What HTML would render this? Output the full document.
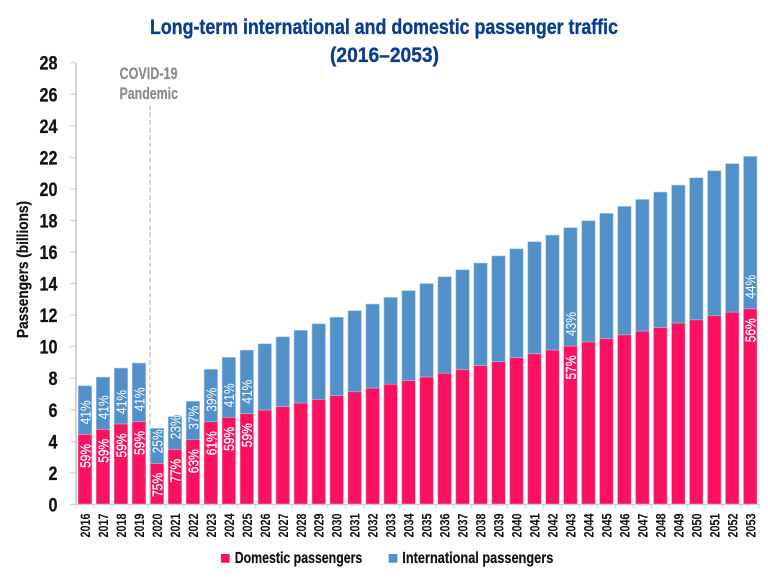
<!DOCTYPE html>
<html lang="en">
<head>
<meta charset="utf-8">
<title>Long-term international and domestic passenger traffic</title>
<style>
  html, body { margin: 0; padding: 0; background: #fff; }
  svg { display: block; font-family: "Liberation Sans", sans-serif; font-weight: bold; }
</style>
</head>
<body>
<svg id="chart" xmlns="http://www.w3.org/2000/svg" width="768" height="583" viewBox="0 0 768 583">
  <rect x="0" y="0" width="768" height="583" fill="#ffffff"/>
  <text x="150" y="34" font-size="21.5" fill="#0a3d8f" stroke="#0a3d8f" stroke-width="0.35" textLength="468" lengthAdjust="spacingAndGlyphs">Long-term international and domestic passenger traffic</text>
  <text x="330" y="62" font-size="21.5" fill="#0a3d8f" stroke="#0a3d8f" stroke-width="0.35" textLength="109" lengthAdjust="spacingAndGlyphs">(2016–2053)</text>
  <text transform="translate(28 338) rotate(-90)" font-size="16" fill="#111111" stroke="#111111" stroke-width="0.25" textLength="137" lengthAdjust="spacingAndGlyphs">Passengers (billions)</text>
  <g id="bars"></g>
  <g id="axes"></g>
  <line x1="150" y1="105" x2="150" y2="504" stroke="#c9c9c9" stroke-width="1.5" stroke-dasharray="5 2.5"/>
  <text x="119.5" y="79" font-size="16.5" fill="#8a8a8a" stroke="#8a8a8a" stroke-width="0.2" textLength="58" lengthAdjust="spacingAndGlyphs">COVID-19</text>
  <text x="119.5" y="99" font-size="16.5" fill="#8a8a8a" stroke="#8a8a8a" stroke-width="0.2" textLength="58.5" lengthAdjust="spacingAndGlyphs">Pandemic</text>
  <g id="labels"></g>
  <g>
    <rect x="221" y="554" width="8.7" height="8.7" fill="#fb1160"/>
    <text x="234.7" y="563" font-size="15.5" fill="#111111" stroke="#111111" stroke-width="0.2" textLength="127.6" lengthAdjust="spacingAndGlyphs">Domestic passengers</text>
    <rect x="388.7" y="554" width="8.7" height="8.7" fill="#5290c9"/>
    <text x="402.3" y="563" font-size="15.5" fill="#111111" stroke="#111111" stroke-width="0.2" textLength="151" lengthAdjust="spacingAndGlyphs">International passengers</text>
  </g>
</svg>
<script>
const years = [2016,2017,2018,2019,2020,2021,2022,2023,2024,2025,2026,2027,2028,2029,2030,2031,2032,2033,2034,2035,2036,2037,2038,2039,2040,2041,2042,2043,2044,2045,2046,2047,2048,2049,2050,2051,2052,2053];
const domesticValues = [4.44,4.76,5.10,5.26,2.60,3.49,4.10,5.24,5.52,5.75,5.98,6.20,6.43,6.66,6.90,7.14,7.38,7.62,7.85,8.08,8.32,8.56,8.80,9.05,9.30,9.55,9.79,10.04,10.30,10.50,10.75,10.99,11.22,11.50,11.70,11.96,12.19,12.40];
const internationalValues = [3.08,3.31,3.54,3.70,2.22,2.07,2.43,3.32,3.80,4.03,4.20,4.42,4.60,4.79,4.96,5.14,5.32,5.50,5.70,5.92,6.11,6.31,6.50,6.70,6.90,7.10,7.28,7.50,7.68,7.95,8.14,8.34,8.58,8.74,9.00,9.19,9.41,9.66];
const domesticShareLabels = ["59%","59%","59%","59%","75%","77%","63%","61%","59%","59%",null,null,null,null,null,null,null,null,null,null,null,null,null,null,null,null,null,"57%",null,null,null,null,null,null,null,null,null,"56%"];
const internationalShareLabels = ["41%","41%","41%","41%","25%","23%","37%","39%","41%","41%",null,null,null,null,null,null,null,null,null,null,null,null,null,null,null,null,null,"43%",null,null,null,null,null,null,null,null,null,"44%"];
const yTickLabels = [0,2,4,6,8,10,12,14,16,18,20,22,24,26,28];

const NS = "http://www.w3.org/2000/svg";
const yMax = 28;
const plotBottom = 504.4;
const plotTop = 62.7;
const plotLeft = 76;
const slot = 17.98;
const barWidth = 13.4;
const axisColor = "#c9c9c9";

function yScale(v) { return plotBottom - (v / yMax) * (plotBottom - plotTop); }
function xCenter(i) { return plotLeft + slot * (i + 0.5); }

const barsGroup = document.getElementById("bars");
const axesGroup = document.getElementById("axes");
const labelsGroup = document.getElementById("labels");

function drawLine(parent, x1, y1, x2, y2, width) {
  const l = document.createElementNS(NS, "line");
  l.setAttribute("x1", x1);
  l.setAttribute("y1", y1);
  l.setAttribute("x2", x2);
  l.setAttribute("y2", y2);
  l.setAttribute("stroke", axisColor);
  l.setAttribute("stroke-width", width);
  parent.appendChild(l);
  return l;
}

function drawBar(i, base, value, fill, edge) {
  const top = yScale(base + value);
  const r = document.createElementNS(NS, "rect");
  r.setAttribute("x", xCenter(i) - barWidth / 2);
  r.setAttribute("y", top);
  r.setAttribute("width", barWidth);
  r.setAttribute("height", yScale(base) - top);
  r.setAttribute("fill", fill);
  r.setAttribute("stroke", edge);
  r.setAttribute("stroke-width", "0.6");
  barsGroup.appendChild(r);
  return r;
}

function drawShare(i, text, topY) {
  const t = document.createElementNS(NS, "text");
  t.setAttribute("transform", "translate(" + (xCenter(i) + 5.4) + " " + (topY + 24) + ") rotate(-90)");
  t.setAttribute("font-size", "15");
  t.setAttribute("font-weight", "normal");
  t.setAttribute("fill", "#ffffff");
  t.setAttribute("textLength", "24");
  t.setAttribute("lengthAdjust", "spacingAndGlyphs");
  t.textContent = text;
  labelsGroup.appendChild(t);
  return t;
}

years.forEach(function (year, i) {
  const dom = drawBar(i, 0, domesticValues[i], "#fb1160", "#fd7fa8");
  
  
  const intl = drawBar(i, domesticValues[i], internationalValues[i], "#5290c9", "#a5c6e4");
  
  

  const domTop = yScale(domesticValues[i]);
  if (domesticShareLabels[i]) {
    const a = drawShare(i, domesticShareLabels[i], domTop + 9.5);
    a.setAttribute("stroke", "#ffffff");
    a.setAttribute("stroke-width", "0.3");
    
    
  }
  if (internationalShareLabels[i]) {
    const b = drawShare(i, internationalShareLabels[i], domTop - 34);
    b.setAttribute("stroke", "#5290c9");
    b.setAttribute("stroke-width", "1.6");
    b.setAttribute("paint-order", "stroke");
    
    
  }

  const tick = drawLine(axesGroup, plotLeft + slot * i, plotBottom, plotLeft + slot * i, plotBottom + 4, 1);
  
  

  const xl = document.createElementNS(NS, "text");
  xl.setAttribute("transform", "translate(" + (xCenter(i) + 5) + " 537.5) rotate(-90)");
  xl.setAttribute("font-size", "14");
  xl.setAttribute("fill", "#111111");
  xl.setAttribute("textLength", "24");
  xl.setAttribute("lengthAdjust", "spacingAndGlyphs");
  xl.textContent = year;
  
  
  axesGroup.appendChild(xl);
});

const lastTick = drawLine(axesGroup, plotLeft + slot * years.length, plotBottom, plotLeft + slot * years.length, plotBottom + 4, 1);



const xAxis = drawLine(axesGroup, 70, plotBottom, plotLeft + slot * years.length, plotBottom, 1.2);



const yAxis = drawLine(axesGroup, plotLeft, plotTop, plotLeft, plotBottom, 1.6);



yTickLabels.forEach(function (v) {
  const y = yScale(v);
  const tick = drawLine(axesGroup, 70, y, plotLeft, y, 1);
  
  

  const t = document.createElementNS(NS, "text");
  const w = String(v).length * 9;
  t.setAttribute("x", 57.5 - w);
  t.setAttribute("y", y + 7);
  t.setAttribute("font-size", "19.5");
  t.setAttribute("fill", "#111111");
  t.setAttribute("stroke", "#111111");
  t.setAttribute("stroke-width", "0.25");
  t.setAttribute("textLength", w);
  t.setAttribute("lengthAdjust", "spacingAndGlyphs");
  t.textContent = v;
  
  
  axesGroup.appendChild(t);
});
</script>
</body>
</html>
